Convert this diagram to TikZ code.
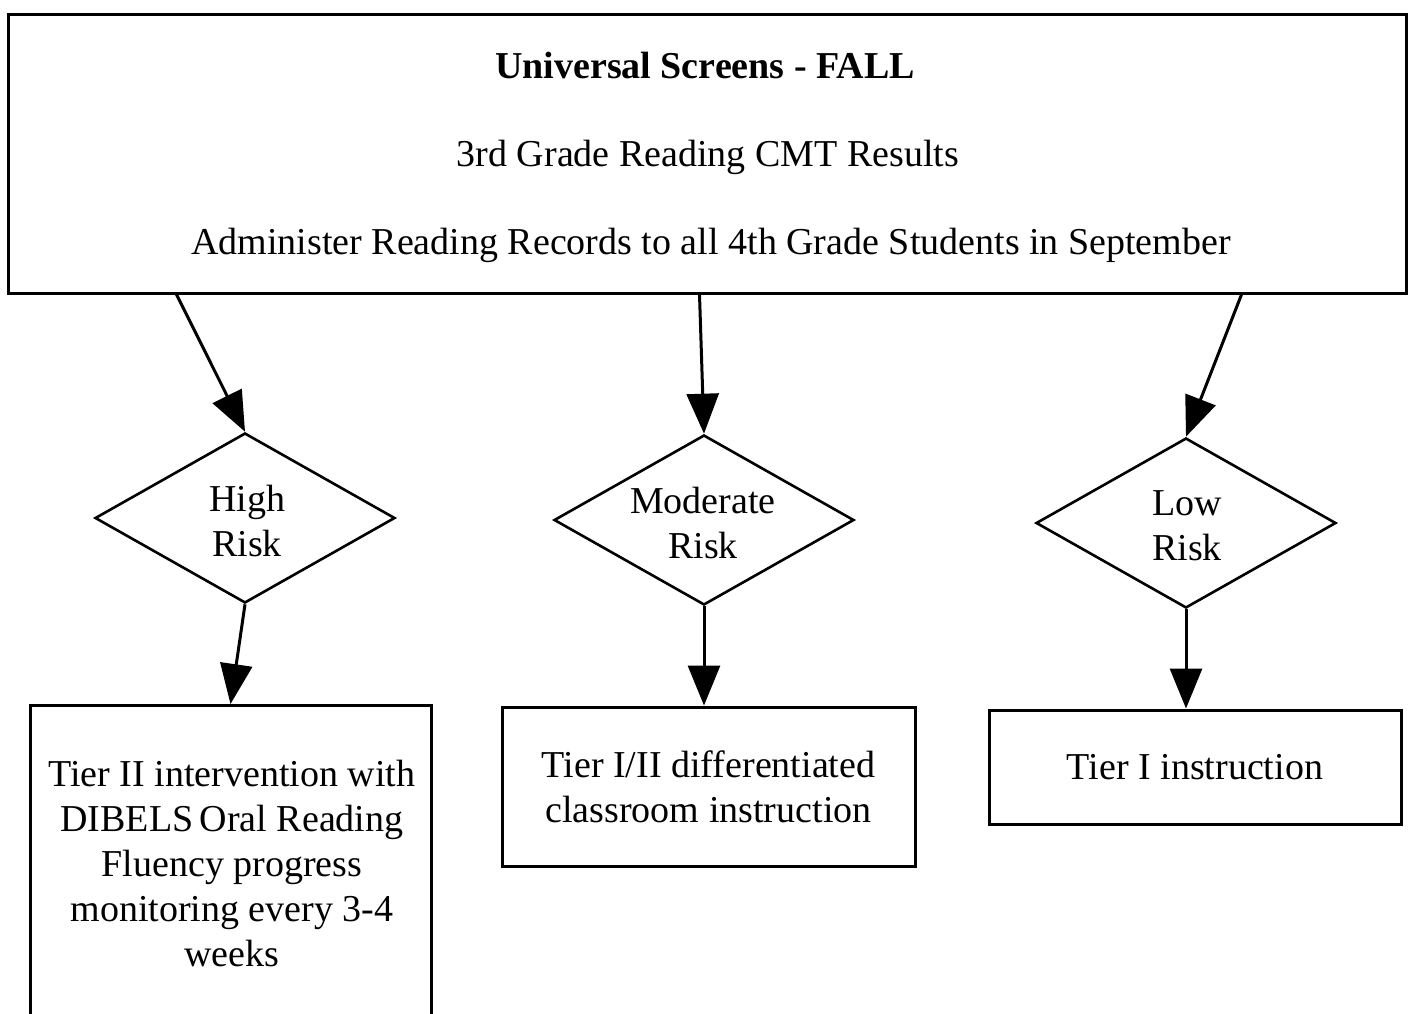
\documentclass[tikz,border=0pt]{standalone}
\usepackage{fontspec}
\setmainfont{Liberation Serif}
\usetikzlibrary{shapes.geometric,arrows.meta}
\begin{document}
\begin{tikzpicture}[x=1pt,y=-1pt,
  every node/.style={font=\fontsize{38}{45}\selectfont},
  boxnode/.style={draw,line width=3pt,rectangle,inner sep=0pt,align=center},
  risknode/.style={draw,line width=2.6pt,diamond,inner sep=0pt,minimum width=300pt,minimum height=170pt},
  txt/.style={inner sep=0pt,align=center},
  conn/.style={line width=3pt,-{Triangle[length=40pt,width=32pt]}}]
\useasboundingbox (0,0) rectangle (1413,1013);
\node[boxnode,minimum width=1398pt,minimum height=279pt] (top) at (707,153.5) {};
\node[txt,font=\fontsize{38}{45}\selectfont\bfseries] (t1) at (705,65) {Universal Screens - FALL};
\node[txt] (t2l) at (708,157) {3rd Grade Reading CMT Results};
\node[txt] (t3l) at (711,245) {Administer Reading Records to all 4th Grade Students in September};
\node[risknode] (hr) at (245,518) {};
\node[risknode] (mr) at (704,520) {};
\node[risknode] (lr) at (1186,523) {};
\node[txt] (hrt) at (247,521) {High\\Risk};
\node[txt] (mrt) at (703,523) {Moderate\\Risk};
\node[txt] (lrt) at (1187,526) {Low\\Risk};
\node[boxnode,minimum width=401pt,minimum height=340pt,anchor=north] (b1) at (230.5,704) {};
\node[txt] (b1t) at (232,863) {Tier II intervention with\\DIBELS\,Oral Reading\\Fluency progress\\monitoring every 3-4\\weeks};
\node[boxnode,minimum width=413pt,minimum height=159pt] (b2) at (708.5,786.5) {Tier I/II differentiated\\classroom instruction};
\node[boxnode,minimum width=412pt,minimum height=114pt] (b3) at (1195,767) {Tier I instruction};
\draw[conn] ([xshift=170pt]top.south west) -- (hr.north);
\draw[conn] ([xshift=693pt]top.south west) -- (mr.north);
\draw[conn] ([xshift=-166pt]top.south east) -- (lr.north);
\draw[conn] (hr.south) -- (b1.north);
\draw[conn] (mr.south) -- (mr.south |- b2.north);
\draw[conn] (lr.south) -- (lr.south |- b3.north);
\end{tikzpicture}
\end{document}
